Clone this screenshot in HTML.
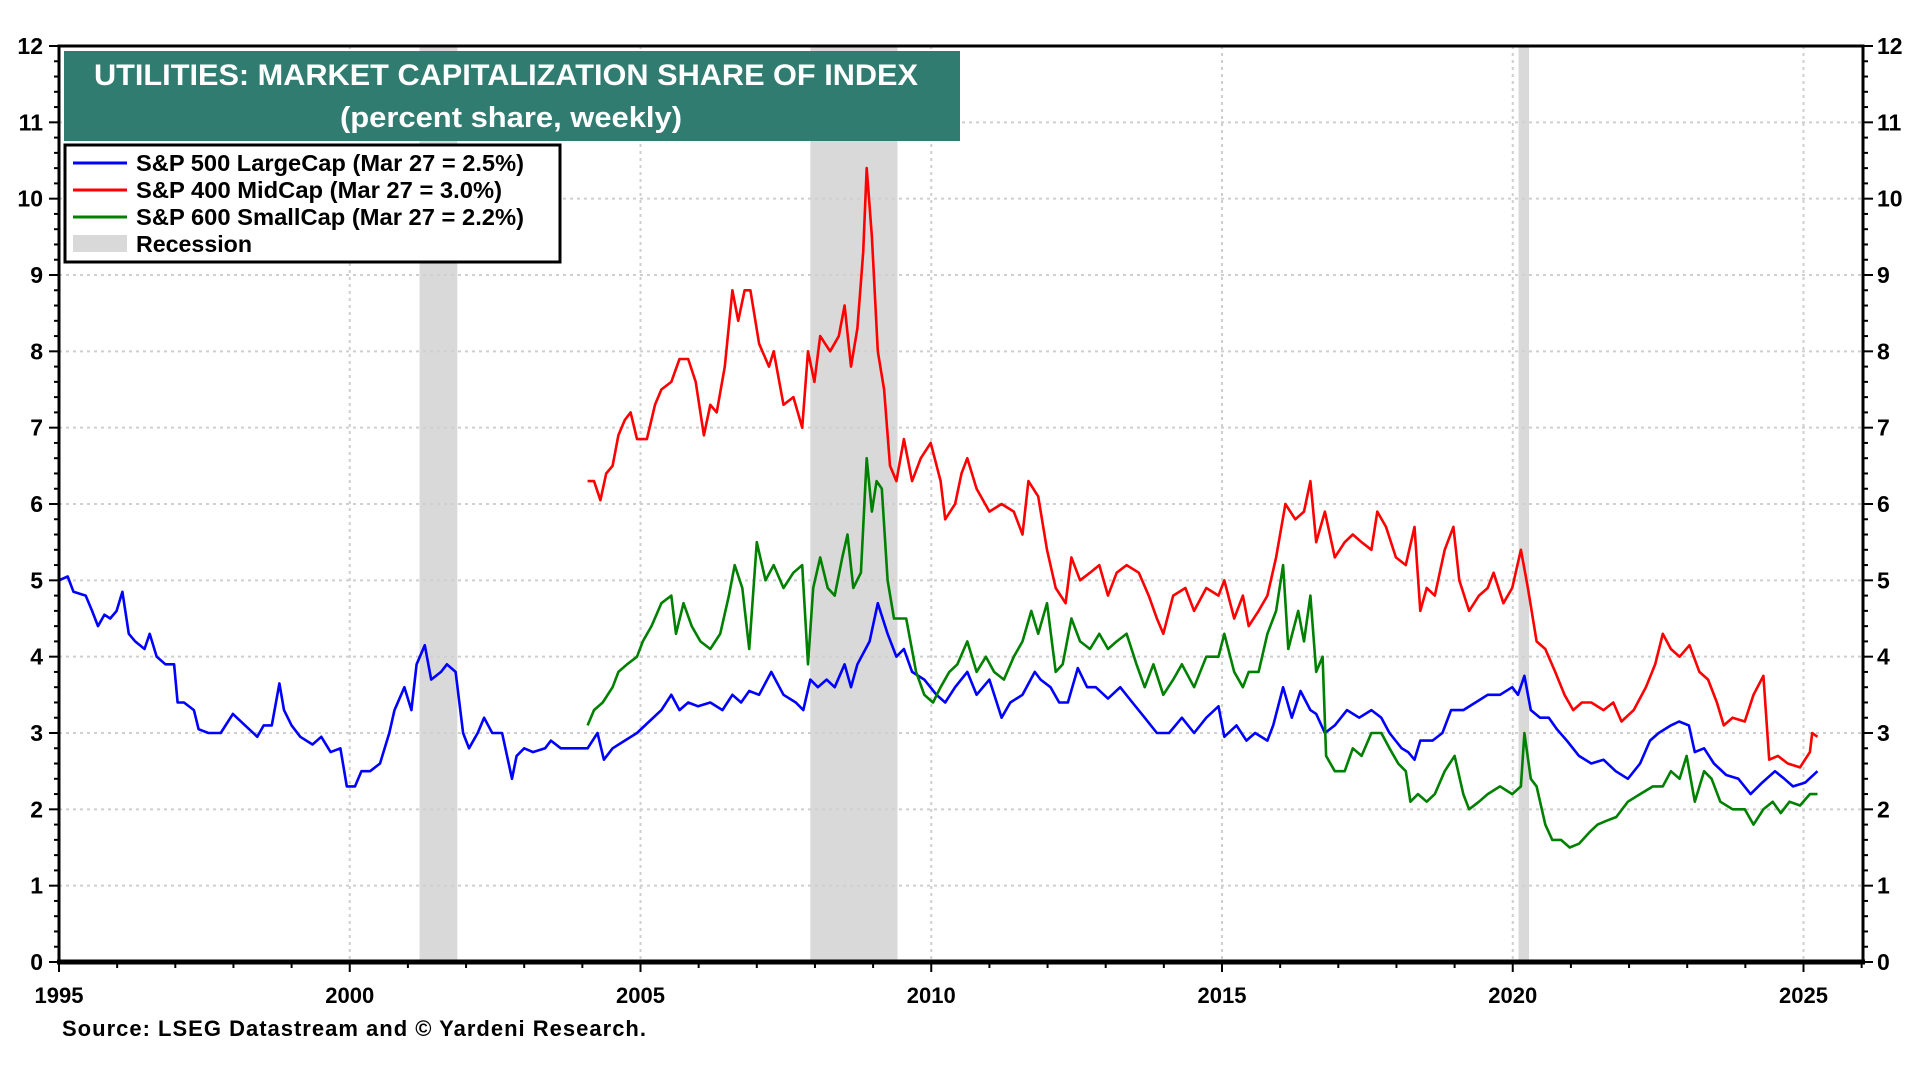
<!DOCTYPE html>
<html><head><meta charset="utf-8"><style>
html,body{margin:0;padding:0;background:#fff;}
svg{display:block;font-family:"Liberation Sans",Arial,sans-serif;font-weight:bold;}
</style></head><body>
<svg id="chart" width="1920" height="1080" viewBox="0 0 1920 1080" xmlns="http://www.w3.org/2000/svg">
<g id="bg"></g><g id="grid"></g><g id="series"></g><g id="axes"></g>
<g>
<rect x="64" y="51" width="896" height="90" fill="#317c70"/>
<text x="94" y="85" fill="#fff" font-size="30" textLength="824" lengthAdjust="spacingAndGlyphs">UTILITIES: MARKET CAPITALIZATION SHARE OF INDEX</text>
<text x="340" y="127" fill="#fff" font-size="29" textLength="342" lengthAdjust="spacingAndGlyphs">(percent share, weekly)</text>
</g>
<g>
<rect x="65" y="145" width="495" height="117" fill="#fff" stroke="#000" stroke-width="3"/>
<g><line x1="73" y1="163" x2="127" y2="163" stroke="#0000ff" stroke-width="3"/><text x="136" y="171" font-size="23" textLength="388" lengthAdjust="spacingAndGlyphs">S&amp;P 500 LargeCap (Mar 27 = 2.5%)</text></g>
<g><line x1="73" y1="190" x2="127" y2="190" stroke="#ff0000" stroke-width="3"/><text x="136" y="198" font-size="23" textLength="366" lengthAdjust="spacingAndGlyphs">S&amp;P 400 MidCap (Mar 27 = 3.0%)</text></g>
<g><line x1="73" y1="217" x2="127" y2="217" stroke="#008000" stroke-width="3"/><text x="136" y="225" font-size="23" textLength="388" lengthAdjust="spacingAndGlyphs">S&amp;P 600 SmallCap (Mar 27 = 2.2%)</text></g>
<g><rect x="73" y="235" width="54" height="17" fill="#d9d9d9"/><text x="136" y="252" font-size="23" textLength="116" lengthAdjust="spacingAndGlyphs">Recession</text></g>
</g>
<text x="62" y="1036" font-size="22" textLength="584">Source: LSEG Datastream and © Yardeni Research.</text>
</svg>
<script>
const yTicks=[0,1,2,3,4,5,6,7,8,9,10,11,12];
const xTicks=[1995,2000,2005,2010,2015,2020,2025];
const recessions=[[2001.2,2001.85],[2007.92,2009.42],[2020.1,2020.28]];
const lcYears=[1995,1995.15,1995.25,1995.46,1995.57,1995.67,1995.78,1995.88,1995.99,1996.09,1996.2,1996.31,1996.47,1996.56,1996.68,1996.83,1996.98,1997.04,1997.15,1997.32,1997.4,1997.57,1997.78,1997.99,1998.2,1998.41,1998.52,1998.66,1998.79,1998.87,1999,1999.15,1999.36,1999.51,1999.67,1999.84,1999.95,2000.09,2000.2,2000.35,2000.52,2000.68,2000.77,2000.94,2001.06,2001.15,2001.29,2001.4,2001.57,2001.67,2001.82,2001.95,2002.05,2002.2,2002.31,2002.45,2002.62,2002.79,2002.87,2003,2003.15,2003.36,2003.46,2003.63,2003.88,2004.09,2004.26,2004.37,2004.52,2004.73,2004.94,2005.15,2005.36,2005.53,2005.67,2005.82,2005.99,2006.2,2006.41,2006.58,2006.73,2006.87,2007.04,2007.25,2007.46,2007.67,2007.8,2007.92,2008.05,2008.2,2008.34,2008.51,2008.62,2008.73,2008.94,2009.08,2009.25,2009.4,2009.53,2009.67,2009.88,2010.09,2010.24,2010.41,2010.62,2010.78,2011,2011.21,2011.36,2011.57,2011.78,2011.88,2012.05,2012.2,2012.35,2012.52,2012.68,2012.83,2013.04,2013.25,2013.46,2013.67,2013.88,2014.09,2014.31,2014.52,2014.73,2014.94,2015.04,2015.25,2015.42,2015.57,2015.78,2015.88,2016.05,2016.2,2016.35,2016.52,2016.62,2016.77,2016.94,2017.15,2017.36,2017.57,2017.74,2017.88,2018.09,2018.2,2018.31,2018.41,2018.62,2018.79,2018.94,2019.15,2019.36,2019.57,2019.78,2019.99,2020.09,2020.2,2020.31,2020.47,2020.62,2020.76,2020.93,2021.14,2021.35,2021.56,2021.77,2021.98,2022.19,2022.36,2022.51,2022.72,2022.86,2023.03,2023.13,2023.29,2023.46,2023.67,2023.88,2024.09,2024.29,2024.51,2024.67,2024.82,2025.03,2025.24];
const lcValues=[5.0,5.05,4.85,4.8,4.6,4.4,4.55,4.5,4.6,4.85,4.3,4.2,4.1,4.3,4.0,3.9,3.9,3.4,3.4,3.3,3.05,3.0,3.0,3.25,3.1,2.95,3.1,3.1,3.65,3.3,3.1,2.95,2.85,2.95,2.75,2.8,2.3,2.3,2.5,2.5,2.6,3.0,3.3,3.6,3.3,3.9,4.15,3.7,3.8,3.9,3.8,3.0,2.8,3.0,3.2,3.0,3.0,2.4,2.7,2.8,2.75,2.8,2.9,2.8,2.8,2.8,3.0,2.65,2.8,2.9,3.0,3.15,3.3,3.5,3.3,3.4,3.35,3.4,3.3,3.5,3.4,3.55,3.5,3.8,3.5,3.4,3.3,3.7,3.6,3.7,3.6,3.9,3.6,3.9,4.2,4.7,4.3,4.0,4.1,3.8,3.7,3.5,3.4,3.6,3.8,3.5,3.7,3.2,3.4,3.5,3.8,3.7,3.6,3.4,3.4,3.85,3.6,3.6,3.45,3.6,3.4,3.2,3.0,3.0,3.2,3.0,3.2,3.35,2.95,3.1,2.9,3.0,2.9,3.1,3.6,3.2,3.55,3.3,3.25,3.0,3.1,3.3,3.2,3.3,3.2,3.0,2.8,2.75,2.65,2.9,2.9,3.0,3.3,3.3,3.4,3.5,3.5,3.6,3.5,3.75,3.3,3.2,3.2,3.05,2.9,2.7,2.6,2.65,2.5,2.4,2.6,2.9,3.0,3.1,3.15,3.1,2.75,2.8,2.6,2.45,2.4,2.2,2.35,2.5,2.4,2.3,2.35,2.5];
const mcYears=[2004.09,2004.2,2004.31,2004.41,2004.52,2004.62,2004.73,2004.83,2004.94,2005.11,2005.25,2005.36,2005.53,2005.67,2005.82,2005.95,2006.09,2006.2,2006.31,2006.45,2006.58,2006.68,2006.79,2006.89,2007.04,2007.21,2007.29,2007.46,2007.63,2007.78,2007.88,2007.99,2008.09,2008.26,2008.41,2008.51,2008.62,2008.73,2008.83,2008.89,2008.98,2009.08,2009.19,2009.29,2009.4,2009.53,2009.67,2009.82,2009.99,2010.16,2010.24,2010.41,2010.52,2010.62,2010.78,2011,2011.21,2011.42,2011.57,2011.67,2011.84,2011.99,2012.14,2012.31,2012.41,2012.56,2012.73,2012.89,2013.04,2013.19,2013.36,2013.57,2013.74,2013.88,2013.99,2014.16,2014.37,2014.52,2014.73,2014.94,2015.04,2015.21,2015.36,2015.46,2015.63,2015.78,2015.93,2016.09,2016.26,2016.41,2016.52,2016.62,2016.77,2016.94,2017.11,2017.25,2017.4,2017.57,2017.67,2017.82,2017.99,2018.16,2018.31,2018.41,2018.52,2018.66,2018.83,2018.98,2019.08,2019.25,2019.42,2019.57,2019.67,2019.84,2019.99,2020.14,2020.26,2020.41,2020.56,2020.73,2020.89,2021.04,2021.19,2021.35,2021.56,2021.73,2021.87,2022.08,2022.29,2022.45,2022.58,2022.72,2022.87,2023.04,2023.21,2023.36,2023.51,2023.63,2023.78,2023.99,2024.14,2024.31,2024.41,2024.56,2024.73,2024.94,2025.11,2025.15,2025.24];
const mcValues=[6.3,6.3,6.05,6.4,6.5,6.9,7.1,7.2,6.85,6.85,7.3,7.5,7.6,7.9,7.9,7.6,6.9,7.3,7.2,7.8,8.8,8.4,8.8,8.8,8.1,7.8,8.0,7.3,7.4,7.0,8.0,7.6,8.2,8.0,8.2,8.6,7.8,8.3,9.3,10.4,9.5,8.0,7.5,6.5,6.3,6.85,6.3,6.6,6.8,6.3,5.8,6.0,6.4,6.6,6.2,5.9,6.0,5.9,5.6,6.3,6.1,5.4,4.9,4.7,5.3,5.0,5.1,5.2,4.8,5.1,5.2,5.1,4.8,4.5,4.3,4.8,4.9,4.6,4.9,4.8,5.0,4.5,4.8,4.4,4.6,4.8,5.3,6.0,5.8,5.9,6.3,5.5,5.9,5.3,5.5,5.6,5.5,5.4,5.9,5.7,5.3,5.2,5.7,4.6,4.9,4.8,5.4,5.7,5.0,4.6,4.8,4.9,5.1,4.7,4.9,5.4,4.9,4.2,4.1,3.8,3.5,3.3,3.4,3.4,3.3,3.4,3.15,3.3,3.6,3.9,4.3,4.1,4.0,4.15,3.8,3.7,3.4,3.1,3.2,3.15,3.5,3.75,2.65,2.7,2.6,2.55,2.75,3.0,2.95];
const scYears=[2004.09,2004.2,2004.35,2004.52,2004.62,2004.77,2004.94,2005.04,2005.19,2005.36,2005.53,2005.61,2005.74,2005.88,2006.03,2006.2,2006.37,2006.52,2006.62,2006.75,2006.87,2007,2007.15,2007.29,2007.46,2007.63,2007.78,2007.88,2007.97,2008.09,2008.22,2008.34,2008.47,2008.56,2008.66,2008.79,2008.89,2008.98,2009.06,2009.15,2009.25,2009.36,2009.46,2009.57,2009.74,2009.88,2010.03,2010.16,2010.31,2010.45,2010.62,2010.78,2010.94,2011.08,2011.25,2011.42,2011.57,2011.72,2011.84,2011.99,2012.14,2012.26,2012.41,2012.56,2012.73,2012.89,2013.04,2013.19,2013.36,2013.53,2013.67,2013.82,2013.99,2014.16,2014.31,2014.52,2014.73,2014.94,2015.04,2015.21,2015.36,2015.46,2015.63,2015.78,2015.93,2016.05,2016.14,2016.31,2016.41,2016.52,2016.62,2016.73,2016.79,2016.94,2017.11,2017.25,2017.4,2017.57,2017.74,2017.88,2018.03,2018.16,2018.24,2018.37,2018.52,2018.66,2018.83,2019,2019.15,2019.25,2019.42,2019.57,2019.78,2019.99,2020.14,2020.2,2020.31,2020.41,2020.56,2020.68,2020.83,2020.98,2021.14,2021.32,2021.46,2021.61,2021.78,2021.98,2022.19,2022.41,2022.58,2022.72,2022.87,2022.99,2023.13,2023.29,2023.42,2023.57,2023.78,2023.99,2024.14,2024.31,2024.47,2024.61,2024.76,2024.94,2025.11,2025.24];
const scValues=[3.1,3.3,3.4,3.6,3.8,3.9,4.0,4.2,4.4,4.7,4.8,4.3,4.7,4.4,4.2,4.1,4.3,4.8,5.2,4.9,4.1,5.5,5.0,5.2,4.9,5.1,5.2,3.9,4.9,5.3,4.9,4.8,5.3,5.6,4.9,5.1,6.6,5.9,6.3,6.2,5.0,4.5,4.5,4.5,3.8,3.5,3.4,3.6,3.8,3.9,4.2,3.8,4.0,3.8,3.7,4.0,4.2,4.6,4.3,4.7,3.8,3.9,4.5,4.2,4.1,4.3,4.1,4.2,4.3,3.9,3.6,3.9,3.5,3.7,3.9,3.6,4.0,4.0,4.3,3.8,3.6,3.8,3.8,4.3,4.6,5.2,4.1,4.6,4.2,4.8,3.8,4.0,2.7,2.5,2.5,2.8,2.7,3.0,3.0,2.8,2.6,2.5,2.1,2.2,2.1,2.2,2.5,2.7,2.2,2.0,2.1,2.2,2.3,2.2,2.3,3.0,2.4,2.3,1.8,1.6,1.6,1.5,1.55,1.7,1.8,1.85,1.9,2.1,2.2,2.3,2.3,2.5,2.4,2.7,2.1,2.5,2.4,2.1,2.0,2.0,1.8,2.0,2.1,1.95,2.1,2.05,2.2,2.2];

const L=59,R=1863,T=46,B=962;
const X=y=>L+(y-1995)*58.15;
const Y=v=>B-v*(B-T)/12;
const NS='http://www.w3.org/2000/svg';
function mk(tag,attrs,parent){const e=document.createElementNS(NS,tag);for(const k in attrs)e.setAttribute(k,attrs[k]);parent.appendChild(e);return e;}
const bg=document.getElementById('bg'),grid=document.getElementById('grid'),ser=document.getElementById('series'),ax=document.getElementById('axes');
recessions.forEach(r=>{const e=mk('rect',{x:X(r[0]),y:T,width:X(r[1])-X(r[0]),height:B-T,fill:'#d9d9d9'},bg);

});
yTicks.forEach(v=>{if(v>0&&v<12){const e=mk('line',{x1:L,x2:R,y1:Y(v),y2:Y(v),stroke:'#cfcfcf','stroke-width':2,'stroke-dasharray':'3 4'},grid);

}});
xTicks.forEach(t=>{if(t>1995){const e=mk('line',{x1:X(t),x2:X(t),y1:T,y2:B,stroke:'#cfcfcf','stroke-width':2,'stroke-dasharray':'3 4'},grid);

}});
function line(xs,vs,color,name){const d=xs.map((x,i)=>(i?'L':'M')+X(x).toFixed(1)+','+Y(vs[i]).toFixed(1)).join('');
const e=mk('path',{d:d,fill:'none',stroke:color,'stroke-width':2.6,'stroke-linejoin':'round'},ser);

}
line(lcYears,lcValues,'#0000ff','series-sp500-largecap');
line(mcYears,mcValues,'#ff0000','series-sp400-midcap');
line(scYears,scValues,'#008000','series-sp600-smallcap');
mk('rect',{x:L,y:T,width:R-L,height:B-T,fill:'none',stroke:'#000','stroke-width':3},ax);
mk('line',{x1:L-2,x2:R+2,y1:B,y2:B,stroke:'#000','stroke-width':5},ax);
for(let v=0;v<=12.001;v+=0.2){const maj=Math.abs(v-Math.round(v))<0.01;const w=maj?10:5;
mk('line',{x1:L-w,x2:L,y1:Y(v),y2:Y(v),stroke:'#000','stroke-width':2},ax);
mk('line',{x1:R,x2:R+w,y1:Y(v),y2:Y(v),stroke:'#000','stroke-width':2},ax);}
yTicks.forEach(v=>{const a=mk('text',{x:43,y:Y(v)+8,'font-size':23,'text-anchor':'end'},ax);a.textContent=v;


const b=mk('text',{x:1877,y:Y(v)+8,'font-size':23},ax);b.textContent=v;

});
for(let yr=1995;yr<=2026;yr++){const maj=yr%5===0;mk('line',{x1:X(yr),x2:X(yr),y1:B,y2:B+(maj?10:6),stroke:'#000','stroke-width':2},ax);}
xTicks.forEach(t=>{const e=mk('text',{x:X(t),y:1003,'font-size':22,'text-anchor':'middle'},ax);e.textContent=t;

});
</script>
</body></html>
